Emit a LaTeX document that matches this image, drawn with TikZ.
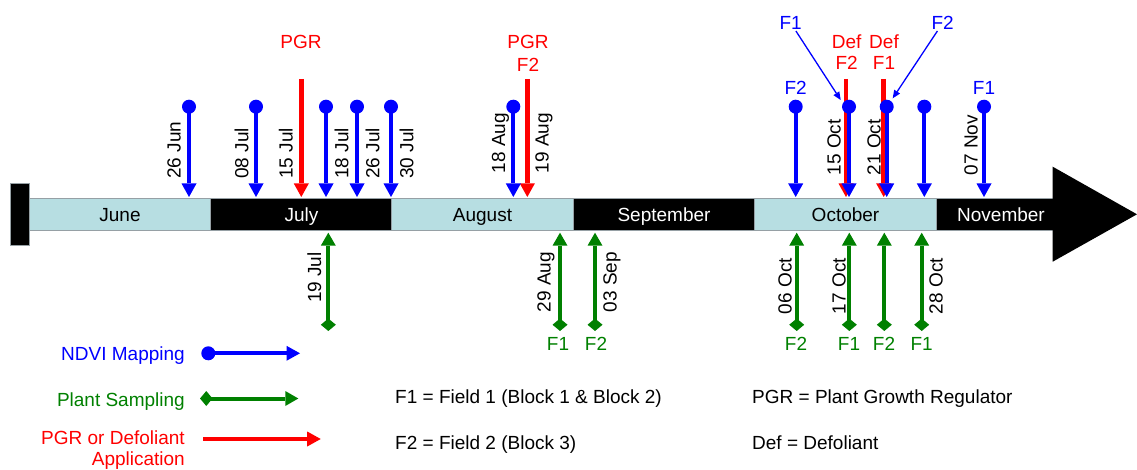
\documentclass[tikz,border=0pt]{standalone}
\usepackage{fontspec}
\setmainfont{Liberation Sans}
\usetikzlibrary{arrows.meta}
\definecolor{lb}{RGB}{183,222,226}
\definecolor{bd}{RGB}{150,160,165}
\definecolor{ndvi}{RGB}{0,0,255}
\definecolor{pgr}{RGB}{255,0,0}
\definecolor{samp}{RGB}{0,128,0}
\begin{document}
\begin{tikzpicture}[x=1pt,y=-1pt,
  every node/.style={font=\fontsize{19}{22.7}\selectfont, inner sep=0pt},
  month/.style={draw=bd, line width=1pt, minimum width=181.5pt, minimum height=32pt, text height=13.6pt, text depth=0pt},
  lightm/.style={month, fill=lb, text=black},
  darkm/.style={month, fill=black, text=white},
  ndviarrow/.style={draw=ndvi, line width=4pt, -{Triangle[length=13.5pt,width=15pt,line width=0pt]}},
  ndvidot/.style={fill=ndvi},
  pgrarrow/.style={draw=pgr, line width=4.5pt, -{Triangle[length=13.5pt,width=15pt,line width=0pt]}},
  samparrow/.style={draw=samp, line width=4pt, {Diamond[length=12.5pt,width=15pt,line width=0pt]}-{Triangle[length=13pt,width=15pt,line width=0pt]}},
  note/.style={draw=ndvi, line width=1.3pt, -{Triangle[length=8pt,width=7pt,line width=0pt]}},
  uplab/.style={rotate=90, text=black, anchor=base west},
  lowlab/.style={rotate=90, text=black, anchor=base east},
  flab/.style={text height=13.6pt, text depth=0pt},
  leglab/.style={anchor=base east},
  keytext/.style={anchor=base west, text=black}
]
\useasboundingbox (0,0) rectangle (1137,470);

% timeline band
\node[fill=black, draw=bd, line width=1pt, minimum width=18.6pt, minimum height=62.7pt] (startbar) at (20,214.65) {};
\node[lightm] (june) at (120,214.3) {June};
\node[darkm] (july) at (301.5,214.3) {July};
\node[lightm] (aug) at (482.5,214.3) {August};
\node[darkm] (sep) at (664,214.3) {September};
\node[lightm] (oct) at (845.5,214.3) {October};
\node[darkm, minimum width=117pt] (novcell) at (994.5,214.3) {};
\fill[black] (1052.7,198.3) -- (1052.7,166.7) -- (1137,214.3) -- (1052.7,261.7) -- (1052.7,230.3) -- cycle;
\node[text=white, flab] (novlab) at (1001,214.3) {November};

% coordinates
\foreach \x/\n in {189/n26jun,256/n08jul,326/n18jul,357/n26jul,391/n30jul,513.3/n18aug,795.7/n06oct,849/n15oct,886.7/n21oct,924.3/n24oct,984/n07nov}{
  \coordinate (\n-top) at (\x,106.7);
  \coordinate (\n-tip) at (\x,197);
}
\foreach \x/\n in {301.3/p15jul,527.3/p19aug,846/d15oct,883.7/d21oct}{
  \coordinate (\n-top) at (\x,79);
  \coordinate (\n-tip) at (\x,197);
}
\foreach \x/\n in {328.3/s19jul,560/s29aug,595/s03sep,796.7/s06oct,849.3/s17oct,884.3/s21oct,921.7/s28oct}{
  \coordinate (\n-bot) at (\x,331);
  \coordinate (\n-tip) at (\x,232.7);
}

% red applications
\foreach \n in {p15jul,p19aug,d15oct,d21oct}{
  \draw[pgrarrow] (\n-top) -- (\n-tip);
}
% blue NDVI
\foreach \n in {n26jun,n08jul,n18jul,n26jul,n30jul,n18aug,n06oct,n15oct,n21oct,n24oct,n07nov}{
  \draw[ndviarrow] (\n-top) -- (\n-tip);
  \fill[ndvidot] (\n-top) circle (7);
}
% green sampling
\foreach \n in {s19jul,s29aug,s03sep,s06oct,s17oct,s21oct,s28oct}{
  \draw[samparrow] (\n-bot) -- (\n-tip);
}

% upper date labels
\node[uplab] (l26jun) at (180.7,179) {26 Jun};
\node[uplab] (l08jul) at (248.3,179) {08 Jul};
\node[uplab] (l15jul) at (292.7,179) {15 Jul};
\node[uplab] (l18jul) at (348.3,179) {18 Jul};
\node[uplab] (l26jul) at (379.3,179) {26 Jul};
\node[uplab] (l30jul) at (413.3,179) {30 Jul};
\node[uplab] (l18aug) at (505,173.5) {18 Aug};
\node[uplab] (l19aug) at (548.5,173.5) {19 Aug};
\node[uplab] (l15oct) at (840.5,175.5) {15 Oct};
\node[uplab] (l21oct) at (880.5,175.5) {21 Oct};
\node[uplab] (l07nov) at (977.5,175.5) {07 Nov};

% lower date labels
\node[lowlab] (l19jul) at (321,252) {19 Jul};
\node[lowlab] (l29aug) at (550.5,251.7) {29 Aug};
\node[lowlab] (l03sep) at (616.5,251.7) {03 Sep};
\node[lowlab] (l06oct) at (791.5,258) {06 Oct};
\node[lowlab] (l17oct) at (845.5,258) {17 Oct};
\node[lowlab] (l28oct) at (942.5,258) {28 Oct};

% red top labels
\node[flab, text=pgr] (t15jul) at (301,41.7) {PGR};
\node[text=pgr, align=center, font=\fontsize{19}{22.8}\selectfont] (t19aug) at (528,53.3) {PGR\\F2};
\node[text=pgr, align=center, font=\fontsize{19}{20.8}\selectfont] (t15oct) at (846.7,52.5) {Def\\F2};
\node[text=pgr, align=center, font=\fontsize{19}{20.8}\selectfont] (t21oct) at (884,52.5) {Def\\F1};

% blue field labels
\node[flab, text=ndvi] (f06oct) at (795.7,88) {F2};
\node[flab, text=ndvi] (f07nov) at (984,88) {F1};
\node[flab, text=ndvi, inner sep=1pt] (f15top) at (790.7,23) {F1};
\node[flab, text=ndvi, inner sep=1pt] (f21top) at (942.7,23) {F2};
\coordinate (a15) at (840.7,100);
\coordinate (a21) at (892.7,98.3);
\draw[note] (f15top) -- (a15);
\draw[note] (f21top) -- (a21);

% green field labels
\foreach \x/\t/\n in {558/F1/g29aug,596/F2/g03sep,796/F2/g06oct,849/F1/g17oct,884/F2/g21oct,921.7/F1/g28oct}{
  \node[flab, text=samp] (\n) at (\x,343.5) {\t};
}

% legend
\node[leglab, text=ndvi] (kndvi) at (185,360.7) {NDVI Mapping};
\node[leglab, text=samp] (ksamp) at (185,406) {Plant Sampling};
\node[text=pgr, align=right, anchor=north east, font=\fontsize{19}{20.5}\selectfont] (kpgr) at (185,431) {PGR or Defoliant\\Application};
\coordinate (kn-s) at (208.3,353.3);
\coordinate (kn-e) at (300,353.3);
\coordinate (ks-s) at (200,398.5);
\coordinate (ks-e) at (298.3,398.5);
\coordinate (kp-s) at (203.3,439);
\coordinate (kp-e) at (320.7,439);
\draw[ndviarrow] (kn-s) -- (kn-e);
\fill[ndvidot] (kn-s) circle (7);
\draw[samparrow] (ks-s) -- (ks-e);
\draw[pgrarrow] (kp-s) -- (kp-e);

\node[keytext] (kf1) at (395,403.3) {F1 = Field 1 (Block 1 \& Block 2)};
\node[keytext] (kf2) at (395,449) {F2 = Field 2 (Block 3)};
\node[keytext] (kpgrdef) at (752,403.3) {PGR = Plant Growth Regulator};
\node[keytext] (kdef) at (752,449) {Def = Defoliant};
\end{tikzpicture}
\end{document}
